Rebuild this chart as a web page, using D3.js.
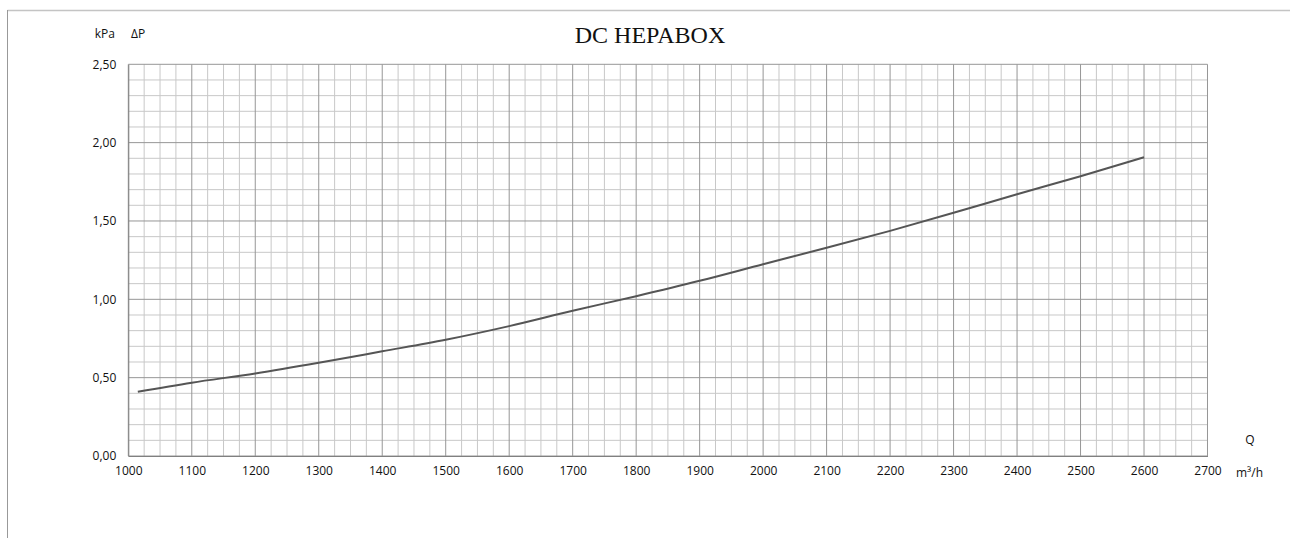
<!DOCTYPE html>
<html>
<head>
<meta charset="utf-8">
<script src="https://cdn.jsdelivr.net/npm/d3@7"></script>
<style>
body{margin:0;background:#fff;}
text{font-family:"Open Sans",sans-serif;fill:#111;}
</style>
</head>
<body>
<svg id="chart"></svg>
<script>
// flow Q (m3/h) and pressure drop dP (kPa)
var flow=[1015,1100,1200,1300,1400,1500,1600,1700,1800,1900,2000,2100,2200,2300,2400,2500,2600]
var dp=[0.41,0.468,0.527,0.595,0.668,0.742,0.829,0.927,1.020,1.118,1.224,1.329,1.437,1.552,1.671,1.786,1.907]
var xTicks=[1000,1100,1200,1300,1400,1500,1600,1700,1800,1900,2000,2100,2200,2300,2400,2500,2600,2700]
var yTicks=[0,0.5,1,1.5,2,2.5]
var title="DC HEPABOX"

var screen={width:1290,height:538}
var margins={left:128.3,right:82.5,top:64.3,bottom:82}
var graph={
    width:screen.width-margins.left-margins.right,
    height:screen.height-margins.top-margins.bottom
}

var svg=d3.select("#chart")
    .attr("width",screen.width)
    .attr("height",screen.height)

// outer frame
svg.append("line")
    .attr("x1",7.5).attr("x2",screen.width).attr("y1",10.5).attr("y2",10.5)
    .attr("stroke","#c4c4c4").attr("stroke-width",1.5)
svg.append("line")
    .attr("x1",7.5).attr("x2",7.5).attr("y1",10).attr("y2",screen.height)
    .attr("stroke","#999").attr("stroke-width",1)

var xScale=d3.scaleLinear()
    .domain([1000,2700])
    .range([0,graph.width])
var yScale=d3.scaleLinear()
    .domain([0,2.5])
    .range([graph.height,0])

var fmt=d3.formatLocale({decimal:",",thousands:".",grouping:[3],currency:["",""]}).format(".2f")

var target=svg.append("g")
    .attr("transform","translate("+margins.left+","+margins.top+")")

// minor grid
var minorX=d3.range(1000,2701,25).filter(function(v){return v%100!=0})
var minorY=d3.range(0,26,1).map(function(v){return v/10}).filter(function(v){return Math.round(v*10)%5!=0})

target.append("g").selectAll("line")
    .data(minorX).enter().append("line")
    .attr("x1",function(d){return xScale(d)}).attr("x2",function(d){return xScale(d)})
    .attr("y1",0).attr("y2",graph.height)
    .attr("stroke","#c8c8c8")
target.append("g").selectAll("line")
    .data(minorY).enter().append("line")
    .attr("y1",function(d){return yScale(d)}).attr("y2",function(d){return yScale(d)})
    .attr("x1",0).attr("x2",graph.width)
    .attr("stroke","#c8c8c8")

// major grid
target.append("g").selectAll("line")
    .data(xTicks).enter().append("line")
    .attr("x1",function(d){return xScale(d)}).attr("x2",function(d){return xScale(d)})
    .attr("y1",0).attr("y2",graph.height)
    .attr("stroke","#969696")
target.append("g").selectAll("line")
    .data(yTicks).enter().append("line")
    .attr("y1",function(d){return yScale(d)}).attr("y2",function(d){return yScale(d)})
    .attr("x1",0).attr("x2",graph.width)
    .attr("stroke","#969696")

// axes
var xAxis=d3.axisBottom(xScale).tickValues(xTicks).tickSize(0).tickPadding(10).tickFormat(d3.format("d"))
var yAxis=d3.axisLeft(yScale).tickValues(yTicks).tickSize(0).tickPadding(12).tickFormat(fmt)

target.append("g")
    .attr("transform","translate(0,"+graph.height+")")
    .call(xAxis)
    .call(function(g){g.select(".domain").attr("stroke","#808080")})
target.append("g")
    .call(yAxis)
    .call(function(g){g.select(".domain").attr("stroke","#808080")})
target.selectAll(".tick text")
    .style("font-family","Open Sans, sans-serif")
    .style("font-size","12px")
    .attr("fill","#111")

// curve
var lineGenerator=d3.line()
    .x(function(d,i){return xScale(flow[i])})
    .y(function(d){return yScale(d)})
    .curve(d3.curveCatmullRom)
target.append("path")
    .datum(dp)
    .attr("d",lineGenerator)
    .attr("fill","none")
    .attr("stroke","#555")
    .attr("stroke-width",2)

// labels
svg.append("text").attr("x",115).attr("y",38).attr("text-anchor","end")
    .style("font-size","12px").text("kPa")
svg.append("text").attr("x",131).attr("y",38)
    .style("font-size","12px").text("ΔP")
svg.append("text").attr("x",1250).attr("y",444).attr("text-anchor","middle")
    .style("font-size","12px").text("Q")
svg.append("text").attr("x",1236).attr("y",477)
    .style("font-size","12px").text("m³/h")
svg.append("text").attr("x",650).attr("y",43).attr("text-anchor","middle")
    .style("font-family","Liberation Serif, Times New Roman, serif")
    .style("font-size","24px").attr("fill","#111")
    .text(title)
</script>
</body>
</html>
